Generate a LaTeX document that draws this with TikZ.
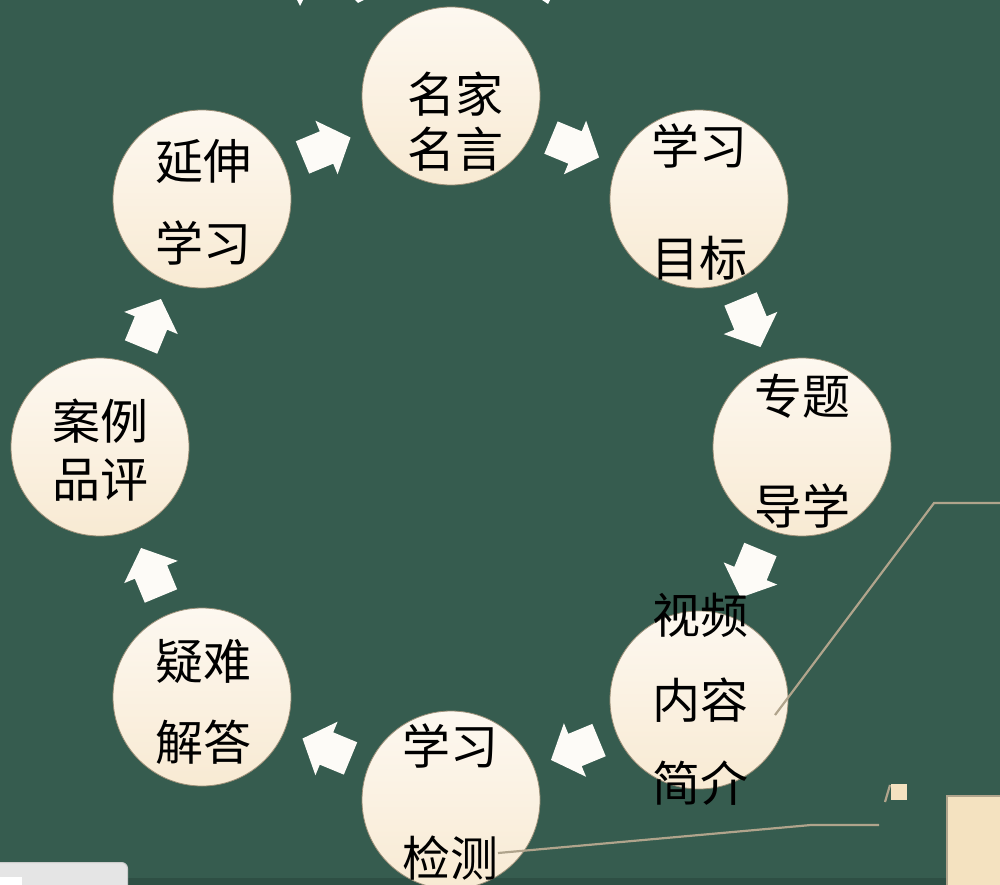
\documentclass[tikz,border=0pt]{standalone}
\usepackage{fontspec}
\newfontfamily\cjk{Noto Sans CJK SC}
\usetikzlibrary{calc}
\definecolor{bg}{HTML}{365C4F}
\definecolor{bgdark}{HTML}{2E4F44}
\definecolor{circtop}{HTML}{FDF8F0}
\definecolor{circbot}{HTML}{F8EAD3}
\definecolor{circedge}{HTML}{9C8F78}
\definecolor{arrowfill}{HTML}{FDFBF7}
\definecolor{leadc}{HTML}{B0A48C}
\definecolor{creamc}{HTML}{F4E2C0}
\begin{document}
\begin{tikzpicture}[x=1pt,y=-1pt,
  bubble/.style={circle, minimum size=178pt, inner sep=0pt, top color=circtop, bottom color=circbot, draw=circedge, line width=0.8pt},
  lbl/.style={anchor=base, font=\cjk\fontsize{48}{48}\selectfont, text=black, inner sep=0pt},
  leader/.style={draw=leadc, line width=2.2pt},
  cyc/.pic={\fill[arrowfill] (-26,-17.5) -- (0,-17.5) -- (0,-29) -- (26,0) -- (0,29) -- (0,17.5) -- (-26,17.5) -- cycle;}
]
\useasboundingbox (0,0) rectangle (1000,885);
\clip (0,0) rectangle (1000,885);
\fill[bg] (0,0) rectangle (1000,885);
\fill[bgdark] (0,878) rectangle (1000,885);
% top fragments
\fill[white] (297,0) -- (303,0) -- (300,6) -- cycle;
\fill[white] (355,0) -- (364,0) -- (358,3) -- cycle;
\fill[white] (542,0) -- (550,0) -- (548,4) -- cycle;
% circles
\node[bubble] (c1) at (451,96) {};
\node[bubble] (c2) at (699,199) {};
\node[bubble] (c3) at (802,447) {};
\node[bubble] (c4) at (699,700) {};
\node[bubble] (c5) at (451,800) {};
\node[bubble] (c6) at (202,697) {};
\node[bubble] (c7) at (100,447) {};
\node[bubble] (c8) at (202,199) {};
% arrows
\pic[rotate=22.5] at ($(c8)!0.5!(c1)$) {cyc};
\pic[rotate=-22.5] at ($(c1)!0.5!(c2)$) {cyc};
\pic[rotate=-67.5] at ($(c2)!0.5!(c3)$) {cyc};
\pic[rotate=-112.5] at ($(c3)!0.5!(c4)$) {cyc};
\pic[rotate=-157.5] at ($(c4)!0.5!(c5)$) {cyc};
\pic[rotate=157.5] at ($(c5)!0.5!(c6)$) {cyc};
\pic[rotate=112.5] at ($(c6)!0.5!(c7)$) {cyc};
\pic[rotate=67.5] at ($(c7)!0.5!(c8)$) {cyc};
% labels
\node[lbl] (t1a) at (455,113) {名家};
\node[lbl] (t1b) at (455,168) {名言};
\node[lbl] (t2a) at (699,165) {学习};
\node[lbl] (t2b) at (699,276) {目标};
\node[lbl] (t3a) at (802,414) {专题};
\node[lbl] (t3b) at (802,524) {导学};
\node[lbl] (t4a) at (700,633) {视频};
\node[lbl] (t4b) at (700,718) {内容};
\node[lbl] (t4c) at (700,801) {简介};
\node[lbl] (t5a) at (450,764) {学习};
\node[lbl] (t5b) at (450,876) {检测};
\node[lbl] (t6a) at (203,679) {疑难};
\node[lbl] (t6b) at (203,760) {解答};
\node[lbl] (t7a) at (100,439) {案例};
\node[lbl] (t7b) at (100,497) {品评};
\node[lbl] (t8a) at (203,180) {延伸};
\node[lbl] (t8b) at (203,261) {学习};
% leader lines
\coordinate (l1a) at (775,715);
\coordinate (l1b) at (934,503);
\coordinate (l1c) at (1000,503);
\draw[leader] (l1a) -- (l1b) -- (l1c);
\coordinate (l2a) at (498,853);
\coordinate (l2b) at (811,825);
\coordinate (l2c) at (879,825);
\draw[leader] (l2a) -- (l2b) -- (l2c);
\coordinate (l3a) at (885,802);
\coordinate (l3b) at (890,785);
\draw[leader] (l3a) -- (l3b);
% small square and cream box
\node[fill=creamc, minimum size=16pt, inner sep=0pt, anchor=north west] (sq) at (891,784) {};
\node[fill=creamc, draw=leadc, line width=2pt, minimum width=60pt, minimum height=100pt, inner sep=0pt, anchor=north west] (box) at (946,795) {};
% bottom-left panel
\node[fill=black!10, draw=black!20, line width=1pt, rounded corners=6pt, minimum width=137pt, minimum height=40pt, inner sep=0pt, anchor=north west] (panel) at (-10,862) {};
\node[fill=white, minimum width=22pt, minimum height=10pt, inner sep=0pt, anchor=north west] (pw) at (0,877) {};
\end{tikzpicture}
\end{document}
